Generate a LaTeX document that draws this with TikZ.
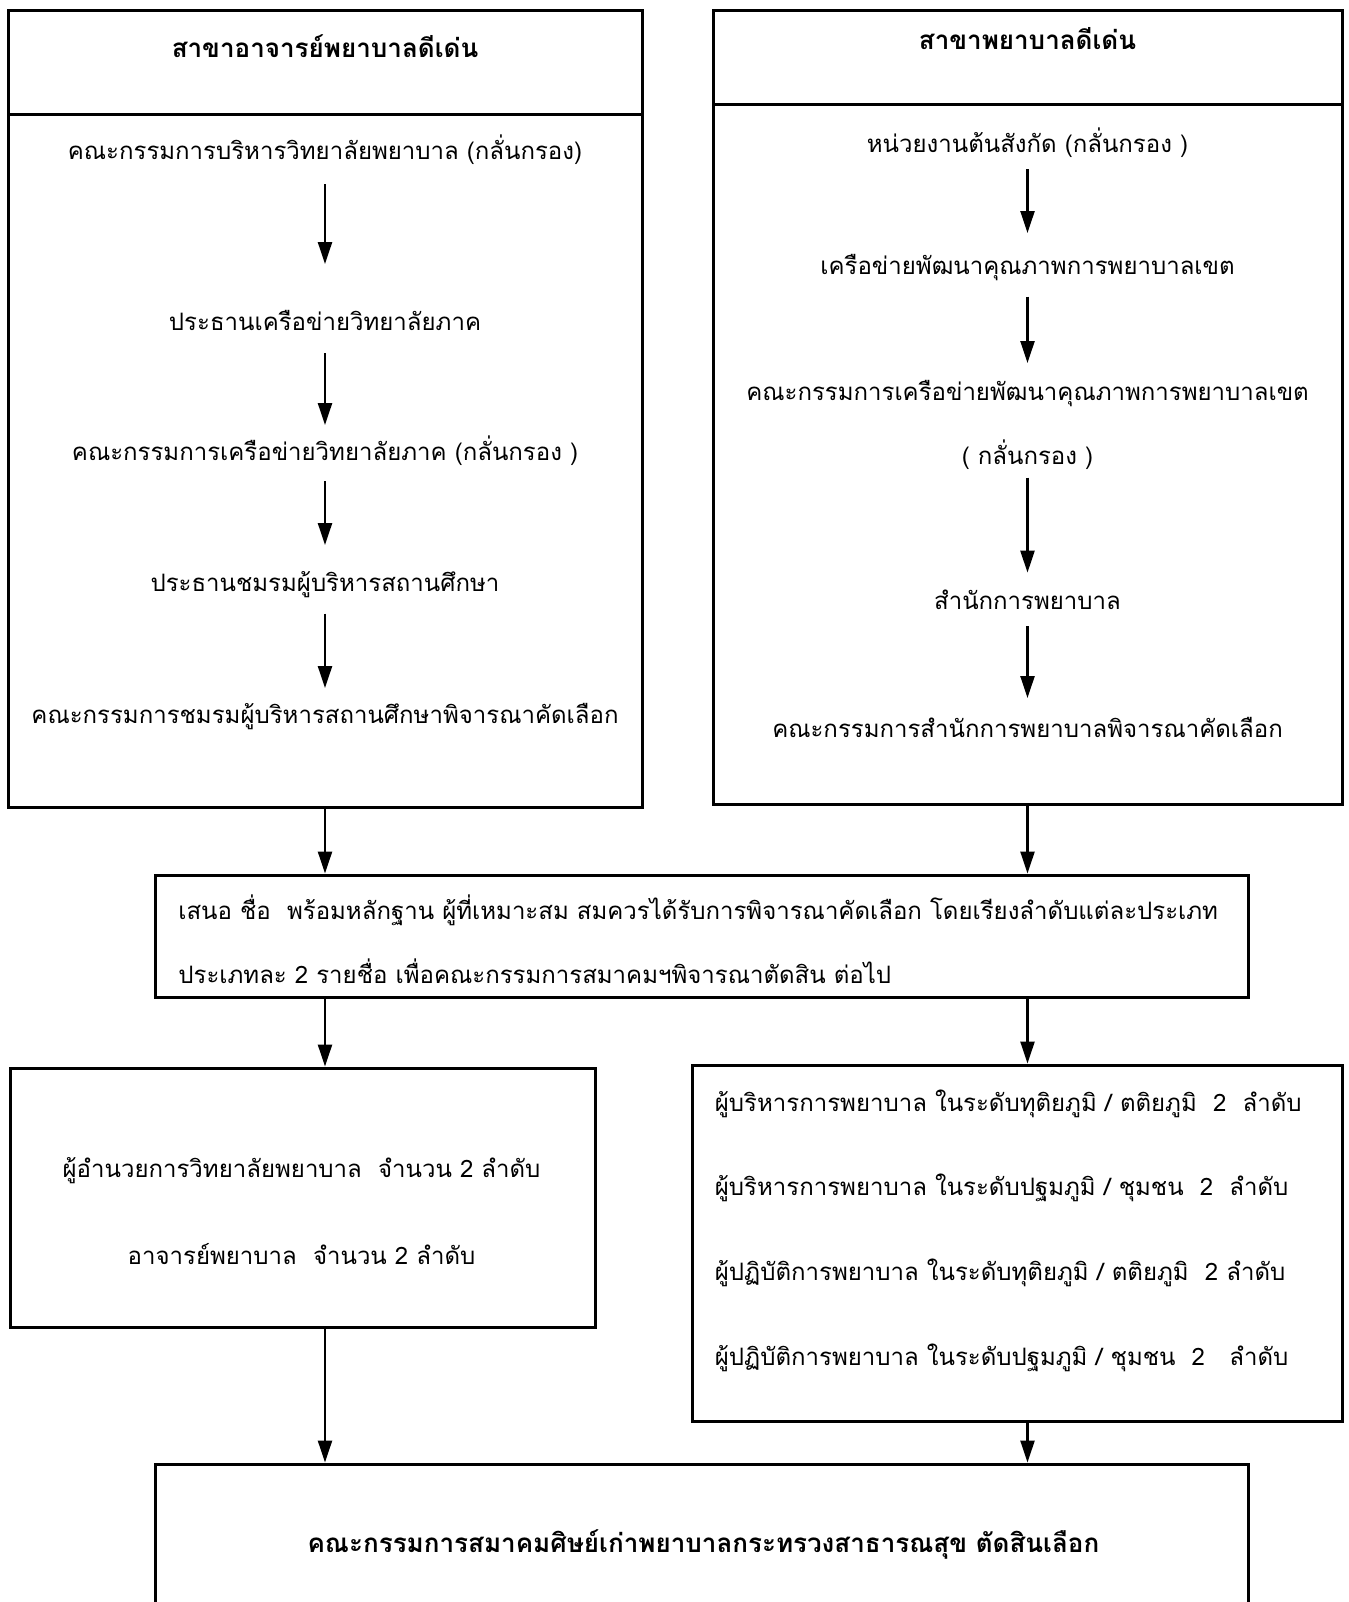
\documentclass[tikz,border=0pt]{standalone}
\usepackage{fontspec}
\newfontfamily\thai[Script=Thai]{Loma}
\usetikzlibrary{arrows.meta,positioning,calc}
\newcommand{\rank}[0]{ลำดับ}
\newcommand{\screen}[0]{กลั่นกรอง}

\begin{document}
\begin{tikzpicture}[x=0.5pt, y=-0.5pt,
    font=\thai\fontsize{12}{14}\selectfont,
    box/.style={draw, line width=1.5pt, inner sep=0pt},
    txt/.style={inner sep=1pt},
    ttl/.style={inner sep=1pt, font=\thai\bfseries\fontsize{13}{15}\selectfont},
    arr/.style={-{Triangle[length=11pt,width=7pt]}, line width=1.2pt}]
    \useasboundingbox (0,0) rectangle (1349,1602);
    \clip (0,0) rectangle (1349,1602);
    % left branch
    \node[box, minimum width=317pt, minimum height=52pt] (headL) at (325,62) {};
    \node[box, minimum width=317pt, minimum height=346.5pt] (bodyL) at (325,460.5) {};
    \node[ttl] (titleL) at (325,46) {สาขาอาจารย์พยาบาลดีเด่น};
    \node[txt] (l1) at (325,150) {คณะกรรมการบริหารวิทยาลัยพยาบาล (\screen)};
    \node[txt] (l2) at (325,320) {ประธานเครือข่ายวิทยาลัยภาค};
    \node[txt] (l3) at (325,451) {คณะกรรมการเครือข่ายวิทยาลัยภาค (\screen~)};
    \node[txt] (l4) at (325,585) {ประธานชมรมผู้บริหารสถานศึกษา};
    \node[txt] (l5) at (325,717) {คณะกรรมการชมรมผู้บริหารสถานศึกษาพิจารณาคัดเลือก};
    % right branch
    \node[box, minimum width=314.5pt, minimum height=47pt] (headR) at (1027.5,57) {};
    \node[box, minimum width=314.5pt, minimum height=350pt] (bodyR) at (1027.5,454) {};
    \node[ttl] (titleR) at (1027.5,39) {สาขาพยาบาลดีเด่น};
    \node[txt] (r1) at (1027.5,143) {หน่วยงานต้นสังกัด (\screen~)};
    \node[txt] (r2) at (1027.5,268) {เครือข่ายพัฒนาคุณภาพการพยาบาลเขต};
    \node[txt] (r3) at (1027.5,394) {คณะกรรมการเครือข่ายพัฒนาคุณภาพการพยาบาลเขต};
    \node[txt] (r3b) at (1027.5,455) {( \screen~)};
    \node[txt] (r4) at (1027.5,600) {สำนักการพยาบาล};
    \node[txt] (r5) at (1027.5,727) {คณะกรรมการสำนักการพยาบาลพิจารณาคัดเลือก};
    % proposal
    \node[box, minimum width=546.5pt, minimum height=61pt] (mid) at (701.5,936) {};
    \node[txt, anchor=west] (m1) at (176,910) {เสนอ ชื่อ~ พร้อมหลักฐาน ผู้ที่เหมาะสม สมควรได้รับการพิจารณาคัดเลือก โดยเรียงลำดับแต่ละประเภท};
    \node[txt, anchor=west] (m2) at (176,971) {ประเภทละ 2 รายชื่อ เพื่อคณะกรรมการสมาคมฯพิจารณาตัดสิน ต่อไป};
    % candidates
    \node[box, minimum width=292.5pt, minimum height=129.5pt] (botL) at (302.5,1197.5) {};
    \node[txt] (bl1) at (301.5,1171) {ผู้อำนวยการวิทยาลัยพยาบาล~ จำนวน 2 \rank};
    \node[txt] (bl2) at (301.5,1254.5) {อาจารย์พยาบาล~ จำนวน 2 \rank};
    \node[box, minimum width=325pt, minimum height=178pt] (botR) at (1017,1243) {};
    \node[txt, anchor=west] (br1) at (712.5,1104) {ผู้บริหารการพยาบาล ในระดับทุติยภูมิ / ตติยภูมิ~ 2~ \rank};
    \node[txt, anchor=west] (br2) at (712.5,1188) {ผู้บริหารการพยาบาล ในระดับปฐมภูมิ / ชุมชน~ 2~ \rank};
    \node[txt, anchor=west] (br3) at (712.5,1273) {ผู้ปฏิบัติการพยาบาล ในระดับทุติยภูมิ / ตติยภูมิ~ 2 \rank};
    \node[txt, anchor=west] (br4) at (712.5,1358) {ผู้ปฏิบัติการพยาบาล ในระดับปฐมภูมิ / ชุมชน~ 2~~ \rank};
    % decision
    \node[box, minimum width=546.5pt, minimum height=100pt] (final) at (701.5,1564) {};
    \node[ttl] (fin) at (703.5,1544) {คณะกรรมการสมาคมศิษย์เก่าพยาบาลกระทรวงสาธารณสุข ตัดสินเลือก};
    % arrows inside the boxes
    \foreach \a/\b/\s/\e in {l1/l2/17/28, l2/l3/16.5/13, l3/l4/15/20, l4/l5/14.25/14.5,
        r1/r2/13/17.5, r2/r3/14.25/15.5, r3b/r4/11.25/13.7, r4/r5/13/14.5}
        \draw[arr, shorten <=\s pt, shorten >=\e pt] (\a.center) -- (\b.center);
    % arrows between the boxes
    \draw[arr] (bodyL.south) -- (bodyL.south |- mid.north);
    \draw[arr] (bodyR.south) -- (bodyR.south |- mid.north);
    \draw[arr] (mid.south -| bodyL.south) -- (botL.north -| bodyL.south);
    \draw[arr] (mid.south -| bodyR.south) -- (botR.north -| bodyR.south);
    \draw[arr] (botL.south -| bodyL.south) -- (final.north -| bodyL.south);
    \draw[arr] (botR.south -| bodyR.south) -- (final.north -| bodyR.south);
\end{tikzpicture}
\end{document}
